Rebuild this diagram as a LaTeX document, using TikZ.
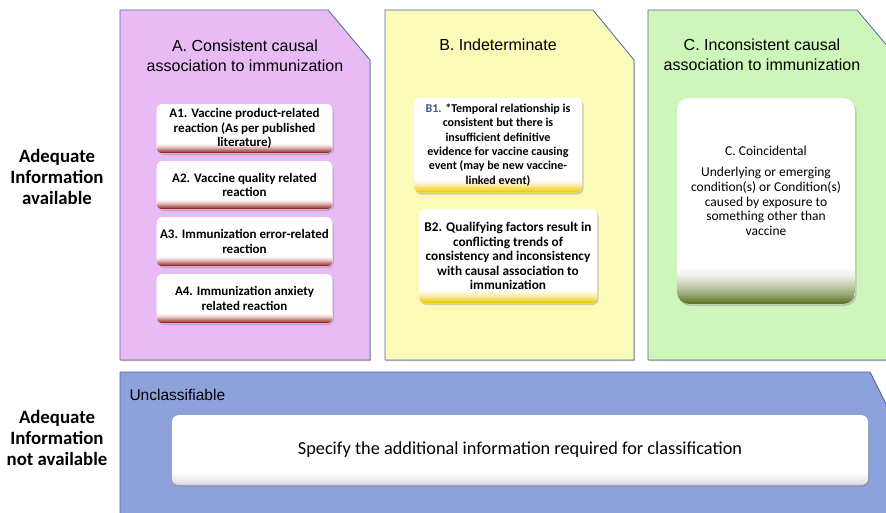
\documentclass[tikz,border=0pt]{standalone}
\usepackage{fontspec}
\setmainfont{Carlito}
\newfontfamily\arialfont{Liberation Sans}
\usetikzlibrary{shadows}
\definecolor{panelA}{RGB}{233,187,245}
\definecolor{panelB}{RGB}{250,250,185}
\definecolor{panelC}{RGB}{206,245,186}
\definecolor{panelD}{RGB}{141,162,218}
\definecolor{edgeblue}{RGB}{80,105,160}
\definecolor{bandred}{RGB}{150,25,25}
\definecolor{bandgold}{RGB}{240,200,0}
\definecolor{bandolive}{RGB}{95,120,40}
\definecolor{bandgray}{RGB}{215,215,220}
\definecolor{bluelabel}{RGB}{60,85,140}
\tikzset{
  panel/.style={draw=edgeblue, line width=0.8pt,
    drop shadow={shadow xshift=1.2pt, shadow yshift=-1.2pt, opacity=0.45}},
  wbox/.style={rounded corners=6pt, fill=white, align=center, inner sep=2pt,
    drop shadow={shadow xshift=1.5pt, shadow yshift=-2pt, opacity=0.35},
    font=\bfseries\fontsize{13}{14.3}\selectfont},
  band/.style 2 args={path picture={
    \foreach \i in {0,...,23}{
      \pgfmathsetmacro\ylo{#2*\i/24}
      \pgfmathsetmacro\yhi{#2*(\i+1)/24+0.4}
      \pgfmathtruncatemacro\p{100*(1-\i/24)^1.6}
      \fill[#1!\p!white, sharp corners]
        ([yshift=\ylo pt]path picture bounding box.south west) rectangle
        ([yshift=\yhi pt]path picture bounding box.south east);
    }}},
  title/.style={align=center, font=\arialfont\fontsize{16}{20}\selectfont},
  sidelabel/.style={align=center, font=\bfseries\fontsize{18.8}{21}\selectfont}
}
\begin{document}
\begin{tikzpicture}[x=1pt,y=-1pt]
\useasboundingbox (0,0) rectangle (886,512);
\clip (0,0) rectangle (886,512);
\fill[white] (0,0) rectangle (886,512);
% panels
\path[panel, fill=panelA] (120,10) -- (328,10) -- (370,60) -- (370,360) -- (120,360) -- cycle;
\path[panel, fill=panelB] (385,10) -- (593,10) -- (634,60) -- (634,360) -- (385,360) -- cycle;
\path[panel, fill=panelC] (648,10) -- (857,10) -- (900,61) -- (900,360) -- (648,360) -- cycle;
\path[panel, fill=panelD] (120,372) -- (870,372) -- (896,424) -- (896,530) -- (120,530) -- cycle;
% titles
\node[title] (tA) at (245,56) {A. Consistent causal\\association to immunization};
\node[title] (tB) at (498,45) {B. Indeterminate};
\node[title] (tC) at (762,55) {C. Inconsistent causal\\association to immunization};
\node[anchor=west, font=\arialfont\fontsize{15.5}{16}\selectfont] (tD) at (126,395) {Unclassifiable};
% side labels
\node[sidelabel] (s1) at (57,177) {Adequate\\Information\\available};
\node[sidelabel] (s2) at (57,438) {Adequate\\Information\\not available};
% A boxes
\node[wbox, band={bandred}{10}, minimum width=176pt, minimum height=49pt] (a1) at (244.5,128.5)
  {A1. Vaccine product-related\\reaction (As per published\\literature)};
\node[wbox, band={bandred}{10}, minimum width=176pt, minimum height=48pt] (a2) at (244.5,185)
  {A2. Vaccine quality related\\reaction};
\node[wbox, band={bandred}{10}, minimum width=176pt, minimum height=49pt] (a3) at (244.5,241.5)
  {A3. Immunization error-related\\reaction};
\node[wbox, band={bandred}{10}, minimum width=176pt, minimum height=49pt] (a4) at (244.5,298.5)
  {A4. Immunization anxiety\\related reaction};
% B boxes
\node[wbox, band={bandgold}{14}, minimum width=168pt, minimum height=95pt,
  font=\bfseries\fontsize{12}{14.4}\selectfont] (b1) at (498,145)
  {{\color{bluelabel}B1.} *Temporal relationship is\\consistent but there is\\insufficient definitive\\evidence for vaccine causing\\event (may be new vaccine-\\linked event)};
\node[wbox, band={bandgold}{14}, minimum width=178pt, minimum height=94pt,
  font=\bfseries\fontsize{13.3}{14.5}\selectfont] (b2) at (508,256)
  {B2. Qualifying factors result in\\conflicting trends of\\consistency and inconsistency\\with causal association to\\immunization};
% C box
\node[wbox, rounded corners=12pt, band={bandolive}{38}, minimum width=178pt, minimum height=206pt] (c1) at (766,201) {};
\node[align=center, font=\fontsize{13.5}{14.6}\selectfont] (c1t) at (766,191)
  {C. Coincidental\\[6.5pt]Underlying or emerging\\condition(s) or Condition(s)\\caused by exposure to\\something other than\\vaccine};
% bottom box
\node[wbox, rounded corners=7pt, band={bandgray}{14}, minimum width=696pt, minimum height=70pt,
  font=\fontsize{18.3}{20}\selectfont] (d1) at (520,450)
  {Specify the additional information required for classification};
\end{tikzpicture}
\end{document}
